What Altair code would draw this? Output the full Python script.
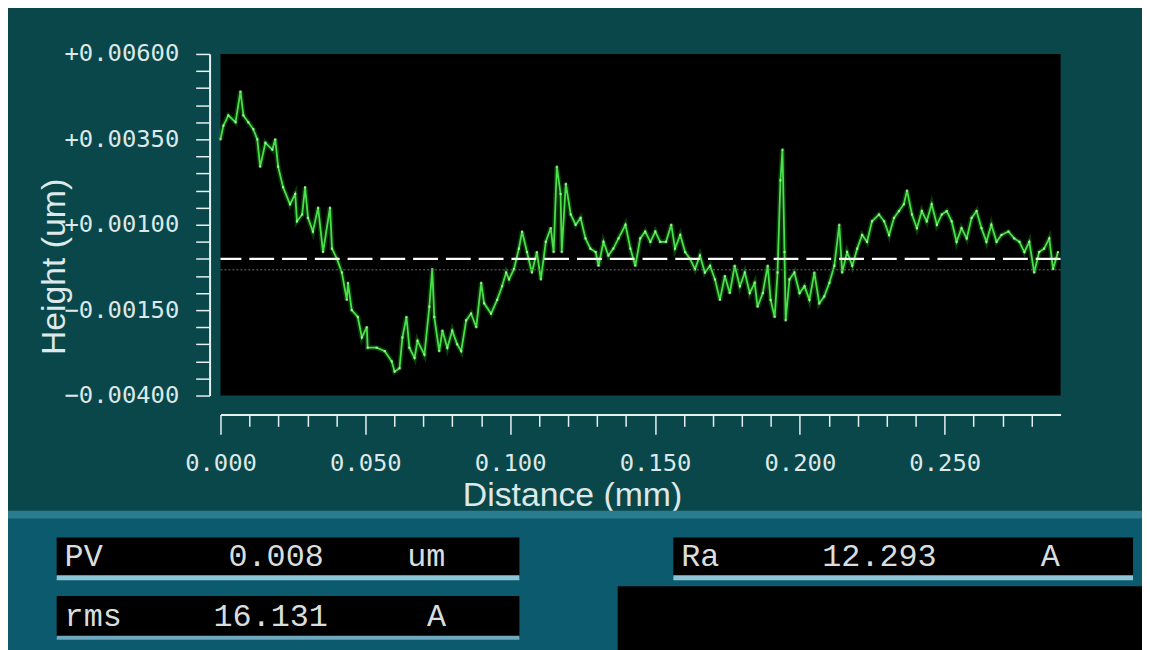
import altair as alt
import pandas as pd

# ---- data ----
dist_mm = [
    0.0000, 0.0010, 0.0027, 0.0052, 0.0069, 0.0079, 0.0096, 0.0113, 0.0127, 0.0137,
    0.0155, 0.0179, 0.0189, 0.0199, 0.0216, 0.0240, 0.0258, 0.0264, 0.0282, 0.0292,
    0.0302, 0.0319, 0.0337, 0.0354, 0.0378, 0.0385, 0.0402, 0.0419, 0.0436, 0.0440,
    0.0453, 0.0474, 0.0488, 0.0505, 0.0508, 0.0539, 0.0567, 0.0591, 0.0601, 0.0618,
    0.0628, 0.0642, 0.0652, 0.0670, 0.0680, 0.0704, 0.0721, 0.0731, 0.0738, 0.0755,
    0.0766, 0.0783, 0.0800, 0.0817, 0.0831, 0.0848, 0.0865, 0.0883, 0.0900, 0.0910,
    0.0934, 0.0955, 0.0972, 0.0986, 0.0996, 0.1013, 0.1030, 0.1041, 0.1058, 0.1075,
    0.1092, 0.1106, 0.1123, 0.1140, 0.1150, 0.1161, 0.1174, 0.1178, 0.1192, 0.1209,
    0.1226, 0.1243, 0.1260, 0.1277, 0.1295, 0.1305, 0.1322, 0.1339,
    0.1356, 0.1374, 0.1398, 0.1415, 0.1432, 0.1449, 0.1466, 0.1484, 0.1501, 0.1518,
    0.1538, 0.1556, 0.1569, 0.1587, 0.1604, 0.1621, 0.1638, 0.1655, 0.1672, 0.1690,
    0.1707, 0.1724, 0.1741, 0.1758, 0.1775, 0.1793, 0.1810, 0.1827, 0.1844, 0.1854,
    0.1872, 0.1889, 0.1899, 0.1913, 0.1923, 0.1933, 0.1940, 0.1947, 0.1951, 0.1964,
    0.1981, 0.1999, 0.2016, 0.2033, 0.2050, 0.2067, 0.2084, 0.2102, 0.2119, 0.2136,
    0.2146, 0.2163, 0.2181, 0.2198, 0.2215, 0.2232, 0.2249, 0.2273, 0.2291, 0.2308,
    0.2325, 0.2342, 0.2359, 0.2370, 0.2387, 0.2404, 0.2421, 0.2438, 0.2455, 0.2473,
    0.2490, 0.2507, 0.2524, 0.2541, 0.2558, 0.2576, 0.2593, 0.2610, 0.2627, 0.2644,
    0.2661, 0.2679, 0.2696, 0.2720, 0.2740, 0.2758, 0.2775, 0.2792, 0.2809, 0.2826,
    0.2843, 0.2861, 0.2874, 0.2891,
]
height_um = [
    0.0035, 0.0039, 0.0042, 0.0040, 0.0049, 0.0042, 0.0040, 0.0038, 0.0035, 0.0027,
    0.0034, 0.0032, 0.0035, 0.0027, 0.0021, 0.0016, 0.0019, 0.0011, 0.0013, 0.0021,
    0.0012, 0.0008, 0.0015, 0.0002, 0.0015, 0.0003, 0.0000, -0.0004, -0.0012, -0.0007,
    -0.0015, -0.0017, -0.0023, -0.0020, -0.0026, -0.0026, -0.0027, -0.0030, -0.0033, -0.0032,
    -0.0023, -0.0017, -0.0026, -0.0029, -0.0024, -0.0028, -0.0014, -0.0003, -0.0017, -0.0027,
    -0.0021, -0.0026, -0.0021, -0.0025, -0.0027, -0.0018, -0.0016, -0.0020, -0.0007, -0.0013,
    -0.0016, -0.0012, -0.0008, -0.0004, -0.0006, -0.0003, 0.0003, 0.0008, 0.0002, -0.0004,
    0.0002, -0.0006, 0.0005, 0.0009, 0.0002, 0.0027, 0.0019, 0.0002, 0.0022, 0.0013,
    0.0010, 0.0012, 0.0006, 0.0003, 0.0002, -0.0002, 0.0005, 0.0001,
    0.0003, 0.0006, 0.0010, 0.0003, -0.0002, 0.0006, 0.0008, 0.0005, 0.0008, 0.0005,
    0.0005, 0.0010, 0.0003, 0.0007, 0.0002, 0.0000, -0.0003, 0.0001, -0.0004, -0.0002,
    -0.0006, -0.0012, -0.0005, -0.0010, -0.0002, -0.0008, -0.0004, -0.0010, -0.0007, -0.0014,
    -0.0010, -0.0002, -0.0012, -0.0017, -0.0004, 0.0023, 0.0032, 0.0002, -0.0018, -0.0006,
    -0.0004, -0.0010, -0.0008, -0.0012, -0.0004, -0.0013, -0.0011, -0.0007, -0.0002, 0.0010,
    -0.0004, 0.0002, -0.0002, 0.0003, 0.0007, 0.0005, 0.0011, 0.0013, 0.0011, 0.0007,
    0.0012, 0.0014, 0.0016, 0.0020, 0.0013, 0.0009, 0.0014, 0.0011, 0.0016, 0.0010,
    0.0013, 0.0014, 0.0011, 0.0005, 0.0009, 0.0006, 0.0012, 0.0014, 0.0009, 0.0005,
    0.0010, 0.0005, 0.0007, 0.0008, 0.0006, 0.0005, 0.0002, 0.0005, -0.0004, 0.0002,
    0.0003, 0.0006, -0.0003, 0.0002,
]
y_domain = [-0.004, 0.006]
x_domain = [0.0, 0.29]
mean_level = [0.0]
ref_level = [-0.00032]
panel_names = ["PV", "rms", "Ra"]
panel_values = ["0.008", "16.131", "12.293"]
panel_units = ["um", "A", "A"]

df = pd.DataFrame({"d": dist_mm, "h": height_um})

y_ticks = [round(-0.004 + 0.0005 * i, 4) for i in range(21)]
x_ticks = [round(0.01 * i, 2) for i in range(29)]

W, H = 846, 344
TXT = "#dde8e8"

xscale = alt.Scale(domain=x_domain, nice=False, zero=False)
yscale = alt.Scale(domain=y_domain, nice=False, zero=False)

x_axis = alt.Axis(
    values=x_ticks,
    labelExpr="round(datum.value*1000) % 50 == 0 ? format(datum.value, '.3f') : ''",
    labelOverlap=False, labelFlush=False,
    offset=19, grid=False,
    domainColor="#e6f0f0", domainWidth=2,
    tickColor="#e6f0f0", tickWidth=1.5,
    tickSize={"condition": {"test": "round(datum.value*1000) % 50 == 0", "value": 20}, "value": 12},
    labelColor=TXT, labelFont="DejaVu Sans Mono", labelFontSize=24, labelPadding=18,
    title="Distance (mm)", titleColor=TXT, titleFont="Liberation Sans",
    titleFontSize=34, titleFontWeight="normal",
    titleX=354, titleY=82, titleBaseline="middle", titleAlign="center",
)
y_axis = alt.Axis(
    values=y_ticks,
    labelExpr="(round(datum.value*100000) - 100) % 250 == 0 ? (datum.value > 0 ? '+' + format(datum.value, '.5f') : format(datum.value, '.5f')) : ''",
    labelOverlap=False, labelFlush=False,
    offset=11, grid=False,
    domainColor="#e6f0f0", domainWidth=2,
    tickColor="#e6f0f0", tickWidth=1.5, tickSize=14,
    labelColor=TXT, labelFont="DejaVu Sans Mono", labelFontSize=24, labelPadding=17,
    title="Height (um)", titleColor=TXT, titleFont="Liberation Sans",
    titleFontSize=34, titleFontWeight="normal",
    titleX=-156, titleY=214, titleAngle=-90, titleBaseline="middle", titleAlign="center",
)

xe = alt.X("d:Q", scale=xscale, axis=x_axis)
ye = alt.Y("h:Q", scale=yscale, axis=y_axis)

base = alt.Chart(df)
glow = base.mark_line(color="#1f9a1f", strokeWidth=5, opacity=0.35).encode(x=xe, y=ye)
line = base.mark_line(color="#4ae04a", strokeWidth=1.8).encode(x=xe, y=ye)
pts = base.mark_point(filled=True, shape="square", size=5, color="#c8ffc0", opacity=0.7).encode(x=xe, y=ye)

mean_rule = alt.Chart(pd.DataFrame({"h": mean_level})).mark_rule(
    color="white", strokeWidth=2.2, strokeDash=[25, 8]).encode(y=ye)
ref_rule = alt.Chart(pd.DataFrame({"h": ref_level})).mark_rule(
    color="#6f6f6f", strokeWidth=1, strokeDash=[2, 2]).encode(y=ye)

one = alt.Data(values=[{}])

def box(x1, x2, y1, y2, color, **kw):
    return alt.Chart(one).mark_rect(color=color, **kw).encode(
        x=alt.value(x1), x2=alt.value(x2), y=alt.value(y1), y2=alt.value(y2))

def label(txt, x, y):
    return alt.Chart(one).mark_text(
        text=txt, align="left", baseline="middle", font="Liberation Mono",
        fontSize=32, color="#d8dede").encode(x=alt.value(x), y=alt.value(y))

decor = [
    box(-230, 940, 460, 468, "#2a7d90"),
    box(-230, 940, 468, 610, "#0b5a6e"),
    box(-165, 301, 487, 528, "#000000"),
    box(-165, 301, 525, 530, "#8cc4d8"),
    box(-165, 301, 546, 588, "#000000"),
    box(-165, 301, 586, 590, "#6fa8bf"),
    box(456, 919, 487, 528, "#000000"),
    box(456, 919, 525, 530, "#8cc4d8"),
    box(400, 940, 536, 610, "#000000"),
    label(panel_names[0], -157, 506),
    label(panel_values[0], 8, 506),
    label(panel_units[0], 188, 506),
    label(panel_names[1], -157, 566),
    label(panel_values[1], -7, 566),
    label(panel_units[1], 208, 566),
    label(panel_names[2], 464, 506),
    label(panel_values[2], 606, 506),
    label(panel_units[2], 826, 506),
]

chart = alt.layer(glow, line, pts, ref_rule, mean_rule, *decor).properties(
    width=W, height=H,
    autosize=alt.AutoSizeParams(type="none"),
    padding={"left": 214, "top": 44, "right": 82, "bottom": 254},
    background="#0a474a",
).configure_view(fill="#000000", strokeWidth=0)

chart.save("out.html", embed_options={"renderer": "svg", "actions": False})
